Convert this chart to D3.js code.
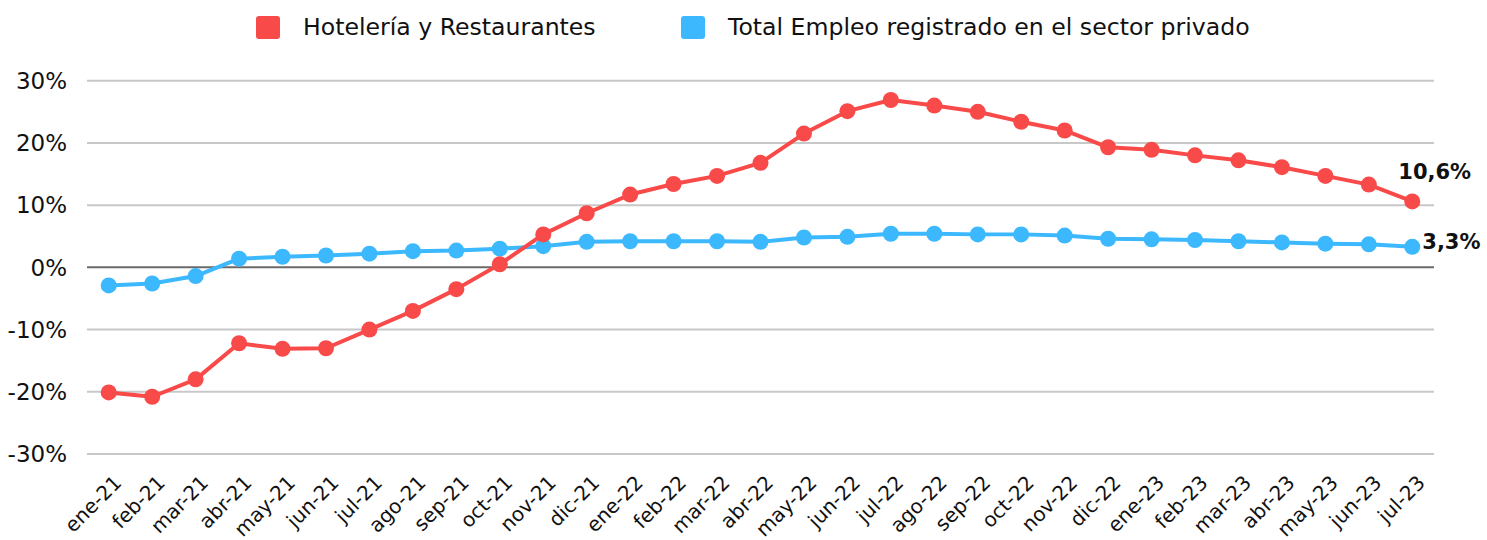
<!DOCTYPE html>
<html lang="es">
<head>
    <meta charset="UTF-8">
    <title>Empleo registrado: Hotelería y Restaurantes vs total privado</title>
    <script src="https://d3js.org/d3.v7.min.js"></script>
    <style>
        body {
            margin: 0;
            background: #fff;
        }
        svg {
            display: block;
            font-family: "DejaVu Sans", sans-serif;
        }
        .grid line {
            stroke: #c8c8c8;
            stroke-width: 2;
        }
        .grid line.zero {
            stroke: #6a6a6a;
        }
        .y-label {
            font-size: 23px;
            fill: #111;
        }
        .x-label {
            font-size: 20px;
            fill: #111;
        }
        .legend text {
            font-size: 23.6px;
            fill: #111;
        }
        .end-label {
            font-size: 21px;
            font-weight: bold;
            fill: #111;
        }
    </style>
</head>
<body>
    <svg width="1487" height="540"></svg>

    <script>
        // meses, ene-21 .. jul-23
        const months = [
            'ene-21', 'feb-21', 'mar-21', 'abr-21', 'may-21', 'jun-21', 'jul-21', 'ago-21', 'sep-21', 'oct-21', 'nov-21', 'dic-21',
            'ene-22', 'feb-22', 'mar-22', 'abr-22', 'may-22', 'jun-22', 'jul-22', 'ago-22', 'sep-22', 'oct-22', 'nov-22', 'dic-22',
            'ene-23', 'feb-23', 'mar-23', 'abr-23', 'may-23', 'jun-23', 'jul-23'
        ];

        // variación interanual (%)
        const hoteleria = [
            -20.1, -20.8, -18.0, -12.2, -13.1, -13.0, -10.0, -7.0, -3.5, 0.5, 5.3, 8.7,
            11.7, 13.4, 14.7, 16.8, 21.5, 25.1, 26.9, 26.0, 25.0, 23.4, 22.0, 19.3,
            18.9, 18.0, 17.2, 16.1, 14.7, 13.3, 10.6
        ];
        const totalPrivado = [
            -2.9, -2.6, -1.4, 1.4, 1.7, 1.9, 2.2, 2.6, 2.7, 3.0, 3.4, 4.1,
            4.2, 4.2, 4.2, 4.1, 4.8, 4.9, 5.4, 5.4, 5.3, 5.3, 5.1, 4.6,
            4.5, 4.4, 4.2, 4.0, 3.8, 3.7, 3.3
        ];

        const yTicks = [-30, -20, -10, 0, 10, 20, 30];

        const series = [
            { name: 'Hotelería y Restaurantes', values: hoteleria, color: '#f94a4a', last: '10,6%' },
            { name: 'Total Empleo registrado en el sector privado', values: totalPrivado, color: '#3cb8fe', last: '3,3%' }
        ];

        const svg = d3.select('svg');
        const plotLeft = 87, plotRight = 1434, plotTop = 80.7, plotBottom = 454;

        const x = d3.scalePoint()
            .domain(months)
            .range([plotLeft, plotRight])
            .padding(0.5);

        const y = d3.scaleLinear()
            .domain([-30, 30])
            .range([plotBottom, plotTop]);

        // gridlines
        svg.append('g').attr('class', 'grid')
            .selectAll('line')
            .data(yTicks)
            .enter().append('line')
            .attr('class', d => d === 0 ? 'zero' : null)
            .attr('x1', plotLeft)
            .attr('x2', plotRight)
            .attr('y1', d => y(d))
            .attr('y2', d => y(d));

        // y axis labels
        svg.append('g')
            .selectAll('text')
            .data(yTicks)
            .enter().append('text')
            .attr('class', 'y-label')
            .attr('x', 67)
            .attr('y', d => y(d))
            .attr('dy', '0.36em')
            .attr('text-anchor', 'end')
            .text(d => d + '%');

        // x axis labels (rotadas)
        svg.append('g')
            .selectAll('text')
            .data(months)
            .enter().append('text')
            .attr('class', 'x-label')
            .attr('text-anchor', 'end')
            .attr('transform', d => `translate(${x(d) + 14},484) rotate(-45)`)
            .text(d => d);

        const line = d3.line()
            .x((d, i) => x(months[i]))
            .y(d => y(d));

        // blue first, red on top
        const order = [series[1], series[0]];
        order.forEach(s => {
            const g = svg.append('g');
            g.append('path')
                .datum(s.values)
                .attr('d', line)
                .attr('fill', 'none')
                .attr('stroke', s.color)
                .attr('stroke-width', 4)
                .attr('stroke-linejoin', 'round');

            g.selectAll('circle')
                .data(s.values)
                .enter().append('circle')
                .attr('cx', (d, i) => x(months[i]))
                .attr('cy', d => y(d))
                .attr('r', 8)
                .attr('fill', s.color);
        });

        // last-value labels
        const lastX = x(months[months.length - 1]);
        svg.append('text')
            .attr('class', 'end-label')
            .attr('x', lastX - 14)
            .attr('y', y(hoteleria[hoteleria.length - 1]) - 22)
            .text(series[0].last);
        svg.append('text')
            .attr('class', 'end-label')
            .attr('x', lastX + 10)
            .attr('y', y(totalPrivado[totalPrivado.length - 1]) + 2)
            .text(series[1].last);

        // legend
        const legendPos = [256, 681];
        const legend = svg.append('g').attr('class', 'legend');
        series.forEach((s, i) => {
            legend.append('rect')
                .attr('x', legendPos[i])
                .attr('y', 16)
                .attr('width', 24)
                .attr('height', 23)
                .attr('rx', 3)
                .attr('fill', s.color);
            legend.append('text')
                .attr('x', legendPos[i] + 47)
                .attr('y', 35)
                .text(s.name);
        });
    </script>
</body>
</html>
